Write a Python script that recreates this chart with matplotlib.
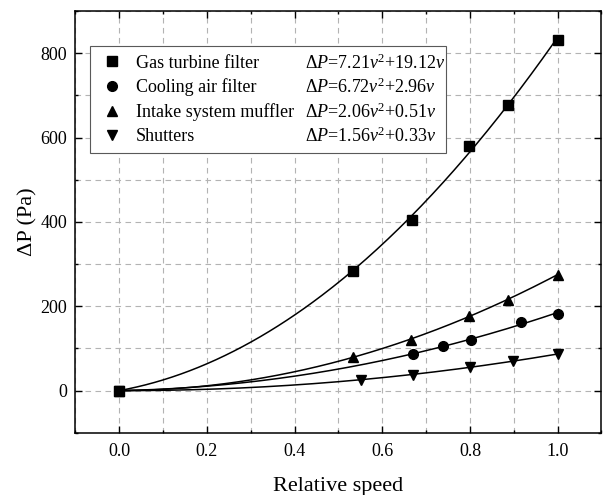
import matplotlib
matplotlib.use('Agg')
import matplotlib.pyplot as plt
from matplotlib.ticker import MultipleLocator
import numpy as np

plt.rcParams['font.family'] = ['Liberation Serif', 'DejaVu Serif']
plt.rcParams['mathtext.fontset'] = 'custom'
plt.rcParams['mathtext.rm'] = 'Liberation Serif'
plt.rcParams['mathtext.it'] = 'Liberation Serif:italic'

# data
gas_x = [0.0, 0.534, 0.667, 0.798, 0.887, 1.0]
gas_y = [0, 284, 404, 581, 678, 832]
cool_x = [0.0, 0.669, 0.738, 0.803, 0.916, 1.0]
cool_y = [0, 86, 105, 121, 162, 182]
intake_x = [0.0, 0.534, 0.665, 0.798, 0.887, 1.0]
intake_y = [0, 80, 120, 178, 216, 275]
shut_x = [0.0, 0.551, 0.669, 0.801, 0.898, 1.0]
shut_y = [0, 25, 38, 57, 70, 86]

names = ['Gas turbine filter', 'Cooling air filter', 'Intake system muffler', 'Shutters']
formulas = [r'$\Delta P$=7.21$v^2$+19.12$v$',
            r'$\Delta P$=6.72$v^2$+2.96$v$',
            r'$\Delta P$=2.06$v^2$+0.51$v$',
            r'$\Delta P$=1.56$v^2$+0.33$v$']
markers = ['s', 'o', '^', 'v']

fig = plt.figure(figsize=(6.03, 4.95), dpi=100)
ax = fig.add_axes([0.125, 0.1257, 0.8725, 0.852])

series = [(gas_x, gas_y), (cool_x, cool_y), (intake_x, intake_y), (shut_x, shut_y)]
handles = []
xs = np.linspace(0, 1, 200)
for (x, y), m, n in zip(series, markers, names):
    x = np.array(x); y = np.array(y)
    # quadratic through origin, least squares
    A = np.column_stack([x**2, x])
    coef = np.linalg.lstsq(A, y, rcond=None)[0]
    ax.plot(xs, coef[0]*xs**2 + coef[1]*xs, color='black', lw=1.1, zorder=3)
    h, = ax.plot(x, y, linestyle='none', marker=m, color='black', ms=7, zorder=4, label=n)
    handles.append(h)

ax.set_xlim(-0.1, 1.1)
ax.set_ylim(-100, 900)
ax.xaxis.set_minor_locator(MultipleLocator(0.1))
ax.yaxis.set_minor_locator(MultipleLocator(100))
ax.set_xticks(np.arange(0, 1.01, 0.2))
ax.set_xticklabels(['%.1f' % v for v in np.arange(0, 1.01, 0.2)])
ax.set_yticks([0, 200, 400, 600, 800])
ax.tick_params(which='both', direction='in', top=True, right=True, labelsize=13, width=1.0)
ax.tick_params(which='major', length=5)
ax.tick_params(which='minor', length=2.5)
ax.tick_params(axis='x', pad=7)
ax.tick_params(axis='y', pad=6)
for s in ax.spines.values():
    s.set_linewidth(1.1)
ax.grid(True, which='both', color='0.7', linestyle=(0, (5, 4)), lw=0.8, zorder=0)

ax.set_xlabel('Relative speed', fontsize=16, labelpad=12.5)
ax.set_ylabel('ΔP (Pa)', fontsize=16, labelpad=2)

leg = ax.legend(handles=handles, loc='upper left', mode='expand',
                bbox_to_anchor=(0.0276, 0.669, 0.676, 0.247),
                fontsize=13, handlelength=1.6, handletextpad=0.5,
                labelspacing=0.38, borderpad=0.45, borderaxespad=0,
                fancybox=False, framealpha=1, edgecolor='0.35')
leg.get_frame().set_linewidth(0.8)
leg.set_zorder(5)

fig.canvas.draw()
inv = ax.transAxes.inverted()
for t, f in zip(leg.get_texts(), formulas):
    bb = t.get_window_extent()
    yc = inv.transform((0, (bb.y0 + bb.y1) / 2))[1]
    ax.text(0.437, yc, f, transform=ax.transAxes, fontsize=13,
            va='center', ha='left', zorder=6)

fig.savefig('out.png', dpi=100)
